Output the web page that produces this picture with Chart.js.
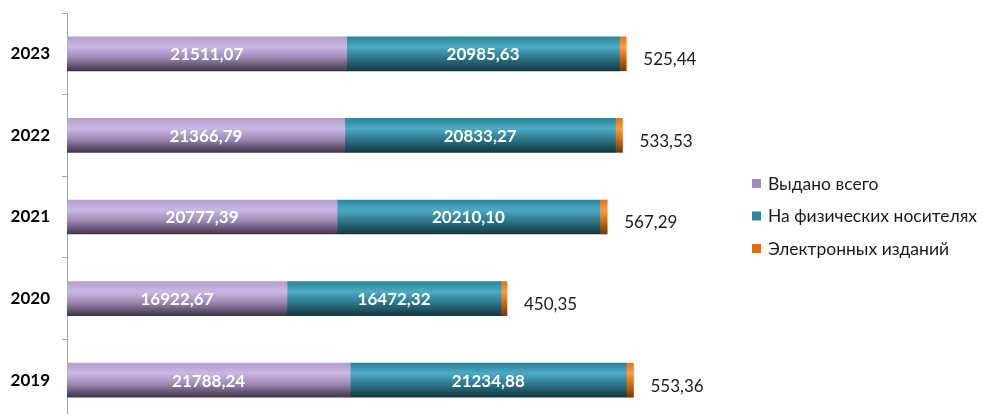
<!DOCTYPE html>
<html>
<head>
<meta charset="utf-8">
<script src="https://cdn.jsdelivr.net/npm/chart.js@4.4.1/dist/chart.umd.min.js"></script>
<style>
    html, body { margin: 0; padding: 0; background: #fff; overflow: hidden; }
    #wrap { width: 983px; height: 414px; overflow: hidden; position: relative; }
    #chart { display: block; }
</style>
</head>
<body>
<div id="wrap"><canvas id="chart" width="983" height="422"></canvas></div>
<script>
// данные
const years = ['2023', '2022', '2021', '2020', '2019'];
const issuedTotal = [21511.07, 21366.79, 20777.39, 16922.67, 21788.24];
const physical = [20985.63, 20833.27, 20210.10, 16472.32, 21234.88];
const electronic = [525.44, 533.53, 567.29, 450.35, 553.36];
const seriesNames = ['Выдано всего', 'На физических носителях', 'Электронных изданий'];

const FONT = 'Lato, "Open Sans", sans-serif';

// цвета градиента (верх, светлая полоса, низ)
const palettes = [
    ['#b3a0c9', '#cbb7e4', '#a08cb6', '#3f3349'],
    ['#2c8599', '#4cabc5', '#2f7a8d', '#143741'],
    ['#e27615', '#ff9b3d', '#d56d12', '#773806']
];
const legendColors = ['#a08cc4', '#31869b', '#e46c0a'];

function barGradient(idx) {
    return function(ctx) {
        const chart = ctx.chart;
        const sy = chart.scales && chart.scales.y;
        if (!chart.chartArea || !sy) return legendColors[idx];
        const y = sy.getPixelForValue(ctx.dataIndex);
        if (!isFinite(y)) return legendColors[idx];
        const h = 34;
        const g = chart.ctx.createLinearGradient(0, y - h / 2, 0, y + h / 2);
        const p = palettes[idx];
        g.addColorStop(0, p[0]);
        g.addColorStop(0.3, p[1]);
        g.addColorStop(0.6, p[2]);
        g.addColorStop(1, p[3]);
        return g;
    };
}

function fmt(v) {
    return v.toFixed(2).replace('.', ',');
}

// подписи значений
const valueLabels = {
    id: 'valueLabels',
    afterDatasetsDraw(chart) {
        const c = chart.ctx;
        c.save();
        c.textBaseline = 'middle';
        chart.data.datasets.forEach((ds, di) => {
            const meta = chart.getDatasetMeta(di);
            meta.data.forEach((bar, i) => {
                const txt = fmt(ds.data[i]);
                if (di < 2) {
                    c.font = 'bold 17px ' + FONT;
                    c.fillStyle = '#ffffff';
                    c.textAlign = 'center';
                    c.fillText(txt, (bar.x + bar.base) / 2, bar.y + 1);
                } else {
                    c.font = '17px ' + FONT;
                    c.fillStyle = '#1a1a1a';
                    c.textAlign = 'left';
                    c.fillText(txt, bar.x + 17, bar.y + 6);
                }
            });
        });
        c.restore();
    }
};

// легенда справа
const sideLegend = {
    id: 'sideLegend',
    afterDraw(chart) {
        const c = chart.ctx;
        c.save();
        c.font = '17.5px ' + FONT;
        c.textBaseline = 'middle';
        c.textAlign = 'left';
        seriesNames.forEach((name, i) => {
            const y = 183 + i * 32.5;
            c.fillStyle = legendColors[i];
            c.fillRect(752, y - 4, 9, 9);
            c.fillStyle = '#1a1a1a';
            c.fillText(name, 768, y + 1);
        });
        c.restore();
    }
};

const datasets = [issuedTotal, physical, electronic].map((arr, i) => ({
    label: seriesNames[i],
    data: arr,
    backgroundColor: barGradient(i),
    borderWidth: 0,
    barThickness: 34,
    stack: 's'
}));

new Chart(document.getElementById('chart'), {
    type: 'bar',
    data: { labels: years, datasets },
    options: {
        indexAxis: 'y',
        responsive: false,
        animation: false,
        layout: { padding: { top: 13, right: 243, bottom: 1, left: 0 } },
        plugins: {
            legend: { display: false },
            tooltip: { enabled: false }
        },
        scales: {
            x: {
                display: false,
                stacked: true,
                min: 0,
                max: 51770
            },
            y: {
                stacked: true,
                afterFit(s) {
                    s.width = 67;
                    s.paddingTop = 0;
                    s.paddingBottom = 0;
                },
                border: { display: true, color: '#a6a6a6', width: 1 },
                grid: {
                    offset: true,
                    drawOnChartArea: false,
                    drawTicks: true,
                    tickLength: 5,
                    color: '#a6a6a6'
                },
                ticks: {
                    padding: 12,
                    color: '#000',
                    font: { family: FONT, size: 17, weight: 'bold' }
                }
            }
        }
    },
    plugins: [valueLabels, sideLegend]
});
</script>
</body>
</html>
